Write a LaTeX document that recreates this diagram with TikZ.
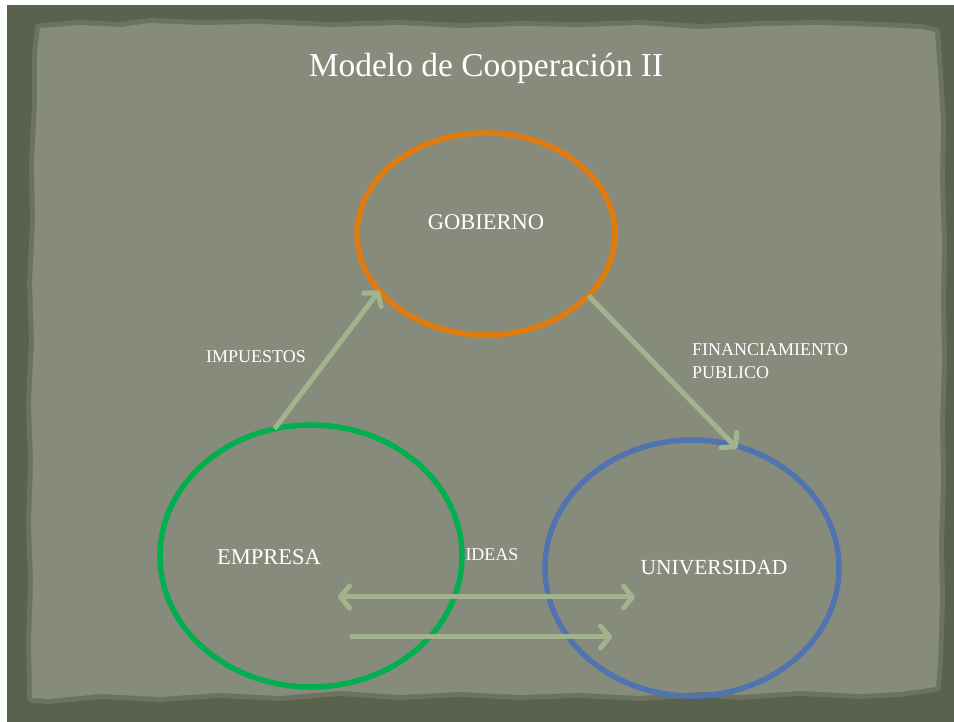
\documentclass[tikz,border=0pt]{standalone}
\usepackage{fontspec}
\setmainfont{Liberation Serif}
\usetikzlibrary{arrows.meta,shapes.geometric}
\definecolor{framec}{HTML}{59624C}
\definecolor{edgec}{HTML}{6B7260}
\definecolor{innerc}{HTML}{878B7B}
\definecolor{arrowc}{HTML}{A3B38E}
\definecolor{orangec}{HTML}{E07B0D}
\definecolor{greenc}{HTML}{00B04F}
\definecolor{bluec}{HTML}{4F74B0}
\newcommand{\tornpath}{(40,694) -- (80,697) -- (120,695) -- (150,699) -- (200,697) -- (260,698) -- (330,695) -- (400,697)
  -- (460,694) -- (520,696) -- (580,695) -- (640,697) -- (700,693) -- (760,696) -- (820,697)
  -- (880,695) -- (920,693) -- (935,690)
  -- (938,650) -- (941,600) -- (940,540) -- (942,480) -- (941,420) -- (942,360) -- (940,300)
  -- (941,240) -- (939,180) -- (940,120) -- (938,60) -- (936,35)
  -- (900,30) -- (860,28) -- (800,31) -- (740,27) -- (700,30) -- (640,26) -- (580,29) -- (520,27)
  -- (460,30) -- (400,27) -- (340,31) -- (280,26) -- (220,29) -- (160,25) -- (100,28) -- (50,23) -- (32,24)
  -- (31,80) -- (33,140) -- (31,200) -- (33,260) -- (31,320) -- (34,380) -- (32,440) -- (35,500)
  -- (34,560) -- (37,620) -- (37,670) -- cycle}
\begin{document}
\begin{tikzpicture}[x=1pt,y=1pt,
  oval/.style={ellipse, draw, line width=5.5pt, inner sep=0pt, outer sep=0pt},
  biglabel/.style={text=white, font=\fontsize{22.5}{27}\selectfont, inner sep=0pt},
  smalllabel/.style={text=white, font=\fontsize{18}{23}\selectfont, inner sep=0pt},
  arr/.style={draw=arrowc, line width=5pt, line cap=butt,
    -{Straight Barb[length=9pt,width=22pt,line cap=round,line join=round]}},
  darr/.style={draw=arrowc, line width=5pt,
    {Straight Barb[length=9pt,width=22pt,line cap=round,line join=round]}-{Straight Barb[length=9pt,width=22pt,line cap=round,line join=round]}}
]
\useasboundingbox (0,0) rectangle (954,722);
% background
\fill[white] (0,0) rectangle (954,722);
\fill[framec] (7,0) rectangle (954,717);
\filldraw[fill=edgec, draw=edgec, line width=10pt, line join=round] \tornpath;
\fill[innerc] \tornpath;

% title
\node[text=white, font=\fontsize{33.5}{40}\selectfont, inner sep=0pt] (title) at (486,654) {Modelo de Cooperación II};

% ellipses
\node[oval, draw=orangec, minimum width=258pt, minimum height=202pt] (gob) at (486,488) {};
\node[oval, draw=greenc, minimum width=302pt, minimum height=262pt] (emp) at (311,166) {};
\node[oval, draw=bluec, minimum width=294pt, minimum height=256pt] (uni) at (692,154) {};

% labels
\node[biglabel] (gobl) at (486,500) {GOBIERNO};
\node[biglabel] (empl) at (269,165) {EMPRESA};
\node[biglabel, font=\fontsize{21.5}{26}\selectfont] (unil) at (714,154) {UNIVERSIDAD};
\node[smalllabel] (imp) at (256,365) {IMPUESTOS};
\node[smalllabel] (ideas) at (492,167) {IDEAS};
\node[smalllabel, anchor=west, align=left] (fin) at (692,360.5) {FINANCIAMIENTO\\PUBLICO};

% connectors
\draw[arr] (emp.106) -- (gob.208.7);
\draw[arr, shorten >=-4pt] (gob.-31) -- (uni.71.5);
\coordinate (d1) at (338,125);
\coordinate (d2) at (635,125);
\coordinate (s1) at (350,85);
\coordinate (s2) at (612,85);
\draw[darr] (d1) -- (d2);
\draw[arr] (s1) -- (s2);
\end{tikzpicture}
\end{document}
